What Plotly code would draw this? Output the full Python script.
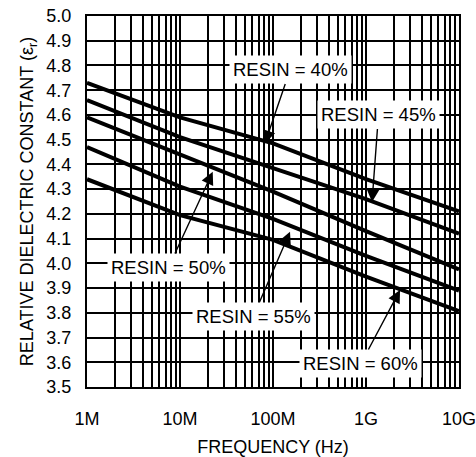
import plotly.graph_objects as go

# frequency points (Hz) and relative dielectric constant
freq = [1e6, 1e7, 1e8, 1e9, 1e10]
resin_40 = [4.73, 4.59, 4.485, 4.34, 4.21]
resin_45 = [4.66, 4.51, 4.385, 4.26, 4.12]
resin_50 = [4.59, 4.44, 4.29, 4.13, 3.975]
resin_55 = [4.47, 4.31, 4.18, 4.03, 3.89]
resin_60 = [4.34, 4.195, 4.095, 3.946, 3.807]

series = [resin_40, resin_45, resin_50, resin_55, resin_60]
labels = ['RESIN = 40%', 'RESIN = 45%', 'RESIN = 50%', 'RESIN = 55%', 'RESIN = 60%']

x_tickvals = [1e6, 1e7, 1e8, 1e9, 1e10]
x_ticktext = ['1M', '10M', '100M', '1G', '10G']
minor_vals = [m * d for d in x_tickvals[:-1] for m in range(2, 10)]

FONT = 'Liberation Sans, Arial, sans-serif'

fig = go.Figure()

for ys, name in zip(series, labels):
    fig.add_trace(
        go.Scatter(
            x=freq,
            y=ys,
            name=name,
            mode='lines',
            line=dict(color='black', width=4),
            showlegend=False,
        )
    )

# label placement (log10 x, y) and arrow tip (log10 x, y)
label_pos = [(8.183, 4.782), (9.134, 4.60), (6.876, 3.983), (7.79, 3.787), (8.946, 3.595)]
arrow_tip = [(7.914, 4.486), (9.065, 4.248), (7.352, 4.37), (8.183, 4.128), (9.366, 3.892)]

for text, (lx, ly), (tx, ty) in zip(labels, label_pos, arrow_tip):
    fig.add_annotation(
        x=tx, y=ty, ax=lx, ay=ly,
        xref='x', yref='y', axref='x', ayref='y',
        text=text,
        showarrow=True,
        arrowhead=2, arrowsize=1.8, arrowwidth=1.4, arrowcolor='black',
        bgcolor='white', borderpad=3,
        font=dict(family=FONT, size=18.5, color='black'),
    )

fig.update_xaxes(
    type='log',
    range=[6, 10],
    tickvals=x_tickvals,
    ticktext=x_ticktext,
    ticks='',
    ticklabelstandoff=14,
    ticklabeloverflow='allow',
    showgrid=True, gridcolor='black', gridwidth=2,
    minor=dict(tickvals=minor_vals, showgrid=True, gridcolor='black', gridwidth=2, ticks=''),
    showline=True, linecolor='black', linewidth=2, mirror=True,
    title=dict(text='FREQUENCY (Hz)', standoff=14, font=dict(family=FONT, size=18, color='black')),
    tickfont=dict(family=FONT, size=18, color='black'),
    zeroline=False,
    automargin=False,
)

fig.update_yaxes(
    range=[3.5, 5.0],
    dtick=0.1,
    tick0=3.5,
    tickformat='.1f',
    ticks='',
    ticklabelstandoff=10,
    ticklabeloverflow='allow',
    showgrid=True, gridcolor='black', gridwidth=2,
    showline=True, linecolor='black', linewidth=2, mirror=True,
    title=dict(text='RELATIVE DIELECTRIC CONSTANT (ε<sub>r</sub>)', standoff=8,
               font=dict(family=FONT, size=18, color='black')),
    tickfont=dict(family=FONT, size=18, color='black'),
    zeroline=False,
    automargin=False,
)

fig.update_layout(
    width=476, height=457,
    margin=dict(l=87, r=17, t=16, b=70),
    plot_bgcolor='white',
    paper_bgcolor='white',
    font=dict(family=FONT, size=18, color='black'),
)

# drop the browser's default body margin so the figure sits at the page origin
fig.write_html('out.html', config={'displayModeBar': False},
               post_script="document.body.style.margin='0px';")
